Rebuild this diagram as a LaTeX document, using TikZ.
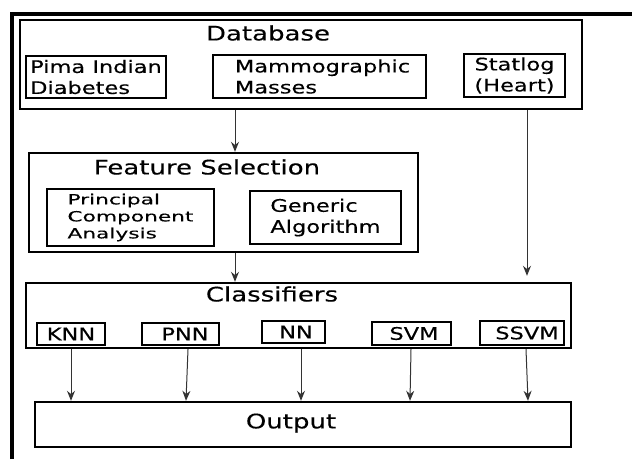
\documentclass[tikz,border=0pt]{standalone}
\usepackage{fontspec}
\setmainfont{DejaVu Sans}[FakeStretch=1.3,FakeBold=0.3]
\newfontfamily\pcafont{DejaVu Sans}[FakeStretch=1.55,FakeBold=0.3]
\usetikzlibrary{arrows.meta}
\usetikzlibrary{calc}

\begin{document}
\begin{tikzpicture}[x=1pt,y=-1pt,
    box/.style={draw,line width=2.4pt,inner sep=0pt,font=\fontsize{17.3}{21}\selectfont},
    title/.style={inner sep=0pt,font=\fontsize{20}{24}\selectfont},
    arr/.style={-{Stealth[length=10pt,width=8pt]},line width=1pt,draw=black!80}]
      \useasboundingbox (0,0) rectangle (632,459);
      \draw[line width=3.4pt] (12,459) -- (12,14) -- (632,14);
      % database
      \node[box,minimum width=562pt,minimum height=89pt] (db) at (300.75,64.5) {};
      \node[title] (dbtitle) at (268,33) {Database};
      \node[box,minimum width=140pt,minimum height=42pt,align=left] (pima) at (96,77) {Pima Indian\\Diabetes};
      \node[box,minimum width=213pt,minimum height=43pt,align=left] (mammo) at (319.5,76.5) {\hspace*{6pt}Mammographic\\\hspace*{6pt}Masses};
      \node[box,minimum width=101pt,minimum height=43pt,align=center] (statlog) at (514.5,75.5) {Statlog\\(Heart)};
      % feature selection
      \node[box,minimum width=389pt,minimum height=99pt] (fs) at (223.5,202.5) {};
      \node[title] (fstitle) at (207,167) {Feature Selection};
      \node[box,minimum width=167pt,minimum height=57pt,align=left,font=\pcafont\fontsize{14}{17}\selectfont] (pca) at (130.5,217.5) {Principal\\Component\\Analysis};
      \node[box,minimum width=151pt,minimum height=53pt,align=left] (ga) at (325.5,217.5) {Generic\\Algorithm};
      % classifiers
      \node[box,minimum width=545pt,minimum height=65pt] (cls) at (298.5,315.5) {};
      \node[title] (clstitle) at (272,294) {Classifiers};
      \node[box,minimum width=68pt,minimum height=22pt] (knn) at (71,334) {KNN};
      \node[box,minimum width=77pt,minimum height=22pt] (pnn) at (180.5,334) {\hspace*{9pt}PNN};
      \node[box,minimum width=63pt,minimum height=22pt] (nn) at (293.5,332) {\hspace*{5pt}NN};
      \node[box,minimum width=79pt,minimum height=23pt] (svm) at (411.5,333.5) {\hspace*{5pt}SVM};
      \node[box,minimum width=84pt,minimum height=24pt] (ssvm) at (522,333) {\hspace*{10pt}SSVM};
      % output
      \node[box,minimum width=536pt,minimum height=45pt] (out) at (303,424.5) {};
      \node[title] (outtitle) at (291,423) {Output};
      % arrows
      \draw[arr] ($(fs.north |- db.south)+(11.5,0)$) -- ($(fs.north)+(11.5,0)$);
      \draw[arr] ($(fs.south)+(11.5,0)$) -- ($(fs.south |- cls.north)+(11.5,0)$);
      \draw[arr] ($(statlog |- db.south)+(12.5,0)$) -- ($(statlog |- cls.north)+(12.5,-6)$);
      \foreach \c/\dx/\ex in {knn/0/0,pnn/7.5/5.5,nn/7.5/7.5,svm/-0.5/-1.5,ssvm/4/6}
        \draw[arr] ($(\c |- cls.south)+(\dx,0)$) -- ($(\c |- out.north)+(\ex,0)$);
    \end{tikzpicture}
\end{document}
